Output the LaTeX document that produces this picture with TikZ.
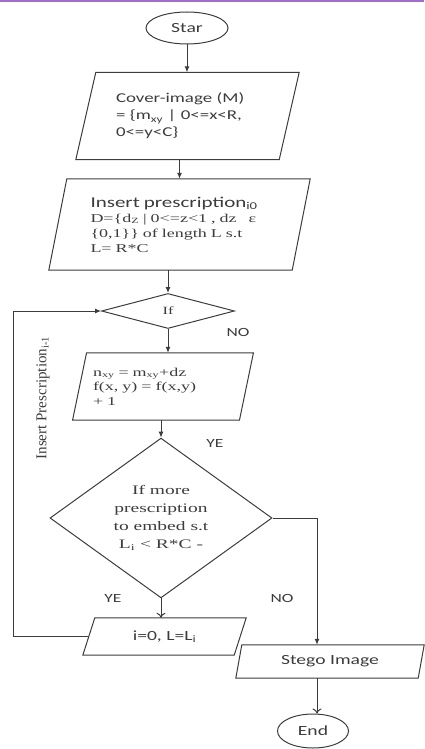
\documentclass[tikz,border=0pt]{standalone}
\usepackage{fontspec}
\newfontfamily\calfont[FakeStretch=1.4]{Carlito}
\newfontfamily\timesfont[FakeStretch=1.5]{Liberation Serif}
\usetikzlibrary{shapes.geometric,arrows.meta}
\definecolor{inkgray}{RGB}{60,60,60}
\definecolor{topline}{RGB}{160,110,200}
% slanted frame round a named box node: #1 node, #2 half of the slant
\newcommand{\ioframe}[2]{\draw[frame] ([xshift=#2]#1.north west) -- ([xshift=#2]#1.north east)
	-- ([xshift=-#2]#1.south east) -- ([xshift=-#2]#1.south west) -- cycle;}
\begin{document}
\begin{tikzpicture}[x=1pt,y=-1pt,
	every node/.style={text=inkgray},
	frame/.style={draw=inkgray,line width=1pt},
	term/.style={ellipse,frame,inner sep=0pt,font=\calfont\fontsize{14}{16}\selectfont},
	iobox/.style={rectangle,inner sep=0pt},
	test/.style={diamond,frame,inner sep=0pt,align=center},
	flow/.style={frame,-{Latex[length=6pt,width=5pt]}},
	openflow/.style={frame,-{To[length=5pt,width=9pt]}},
	ans/.style={font=\calfont\fontsize{12.5}{14}\selectfont}]
	\useasboundingbox (0,0) rectangle (424,749);
	\draw[topline,line width=1.8pt] (0,0.9) -- (424,0.9);
	% main column
	\node[term,minimum width=82pt,minimum height=32pt] (start) at (187,28) {Star};
	\node[iobox,minimum width=203pt,minimum height=87pt,text width=143pt,align=left,
		font=\calfont\fontsize{13.5}{17}\selectfont] (cover) at (187.5,116)
		{Cover-image (M)\\= \{m\textsubscript{xy} | 0<=x<R,\\0<=y<C\}};
	\ioframe{cover}{10pt}
	\node[iobox,minimum width=243pt,minimum height=91pt,text width=178pt,align=left,
		font=\timesfont\fontsize{12}{15}\selectfont] (insert) at (179.5,224.5)
		{{\calfont\fontsize{15}{15}\selectfont Insert prescription\textsubscript{i0}}\\D=\{d\textsubscript{Z} | 0<=z<1 , dz \ \ ε\\\{0,1\}\} of length L s.t\\L= R*C};
	\ioframe{insert}{9pt}
	\node[test,minimum width=133pt,minimum height=35pt,
		font=\timesfont\fontsize{11}{13}\selectfont] (cond) at (168,311) {If};
	\node[iobox,minimum width=166.5pt,minimum height=67pt,text width=140pt,align=left,
		font=\timesfont\fontsize{12}{14.5}\selectfont] (update) at (163,386.5)
		{n\textsubscript{xy} = m\textsubscript{xy}+dz\\f(x, y) = f(x,y)\\+ 1};
	\ioframe{update}{7pt}
	\node[test,minimum width=222pt,minimum height=150pt,
		font=\timesfont\fontsize{13}{18}\selectfont] (more) at (161,518)
		{If more\\prescription\\to embed s.t\\L\textsubscript{i} < R*C -};
	\node[iobox,minimum width=151pt,minimum height=37pt,
		font=\calfont\fontsize{14}{16}\selectfont] (reset) at (164.5,636.5) {i=0, L=L\textsubscript{i}};
	\ioframe{reset}{6pt}
	\node[iobox,minimum width=182pt,minimum height=33pt,
		font=\calfont\fontsize{14}{16}\selectfont] (stego) at (330,661.5) {Stego Image};
	\ioframe{stego}{3pt}
	\node[term,minimum width=71pt,minimum height=34pt] (ender) at (313,731) {End};
	% loop and branch points
	\coordinate (loopc) at (13,311);
	\coordinate (turn) at (317,518);
	% connectors
	\draw[flow] (start.south) -- (start.south |- cover.north);
	\draw[flow] (insert.north |- cover.south) -- (insert.north);
	\draw[flow] (cond.north |- insert.south) -- (cond.north);
	\draw[flow] (cond.south) -- (cond.south |- update.north);
	\draw[flow] (more.north |- update.south) -- (more.north);
	\draw[openflow] (more.south) -- (more.south |- reset.north);
	\draw[flow] (reset.west) -| (loopc) |- (cond.west);
	\draw[flow] (more.east) -- (turn) -- (turn |- stego.north);
	\draw[openflow] (stego.south -| turn) -- (ender.north -| turn);
	% labels
	\node[rotate=90,inner sep=0pt] (back) at (43,398)
		{\resizebox{123pt}{10pt}{\timesfont Insert Prescription\textsubscript{i-1}}};
	\node[ans] (no1) at (238,332) {NO};
	\node[ans] (ye1) at (215,443) {YE};
	\node[ans] (ye2) at (113,598) {YE};
	\node[ans] (no2) at (282,598) {NO};
\end{tikzpicture}
\end{document}
